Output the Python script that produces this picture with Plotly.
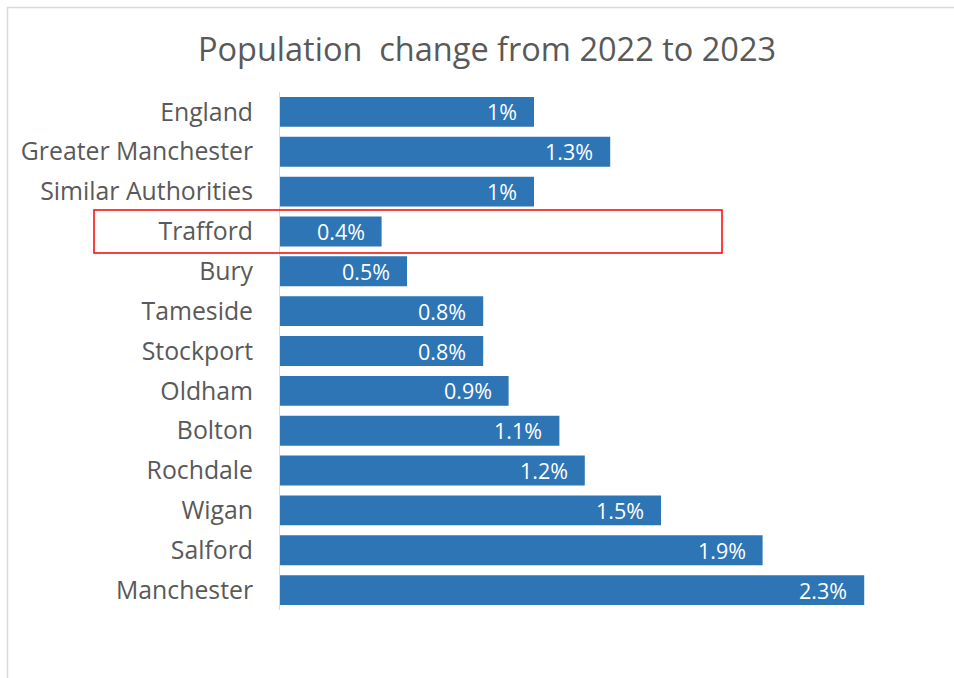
import plotly.graph_objects as go

# Population change, 2022 to 2023 (percent), listed top to bottom
areas = ["England", "Greater Manchester", "Similar Authorities", "Trafford", "Bury",
         "Tameside", "Stockport", "Oldham", "Bolton", "Rochdale", "Wigan",
         "Salford", "Manchester"]
change_pct = [1.0, 1.3, 1.0, 0.4, 0.5, 0.8, 0.8, 0.9, 1.1, 1.2, 1.5, 1.9, 2.3]
value_labels = [f"{v:g}%" for v in change_pct]
highlight = "Trafford"

W, H = 954, 678
L, R, T, B = 280, 39, 92, 68
plot_w = W - L - R
plot_h = H - T - B

FONT = "Open Sans"
GREY = "#595959"

fig = go.Figure(go.Bar(
    x=change_pct, y=areas, orientation="h",
    marker=dict(color="#2E75B6", line=dict(width=0)),
    hoverinfo="skip",
))

# value labels just inside the end of each bar
for area, v, lab in zip(areas, change_pct, value_labels):
    fig.add_annotation(x=v, y=area, text=lab, showarrow=False,
                       xanchor="right", xshift=-15,
                       font=dict(family=FONT, size=21.5, color="white"))

def px_x(p):
    return (p - L) / plot_w

def px_y(p):
    return (H - B - p) / plot_h

# box around the highlighted area
hi = areas.index(highlight)
fig.add_shape(type="rect", xref="paper", yref="y",
              x0=px_x(94), x1=px_x(722), y0=hi - 0.54, y1=hi + 0.54,
              line=dict(color="#FF0000", width=1.5), fillcolor="rgba(0,0,0,0)")

# chart frame (top and left edges)
fig.add_shape(type="line", xref="paper", yref="paper",
              x0=px_x(7), x1=px_x(960), y0=px_y(7.5), y1=px_y(7.5),
              line=dict(color="#D9D9D9", width=1.5))
fig.add_shape(type="line", xref="paper", yref="paper",
              x0=px_x(7.5), x1=px_x(7.5), y0=px_y(7), y1=px_y(690),
              line=dict(color="#D9D9D9", width=1.5))

fig.update_layout(
    width=W, height=H,
    margin=dict(l=L, r=R, t=T, b=B, pad=0),
    paper_bgcolor="white", plot_bgcolor="white",
    bargap=0.25,
    showlegend=False,
    title=dict(text="Population  change from 2022 to 2023",
               x=(487 - L) / plot_w, xref="paper", xanchor="center",
               y=1 - 50 / H, yanchor="middle",
               font=dict(family=FONT, size=32.5, color=GREY)),
    xaxis=dict(range=[0, plot_w / 254], visible=False, fixedrange=True),
    yaxis=dict(autorange="reversed", type="category",
               showline=True, linecolor="#D9D9D9", linewidth=1,
               showgrid=False, ticks="", ticklabelstandoff=21,
               tickfont=dict(family=FONT, size=24.8, color=GREY)),
)

fig.write_html("out.html")
